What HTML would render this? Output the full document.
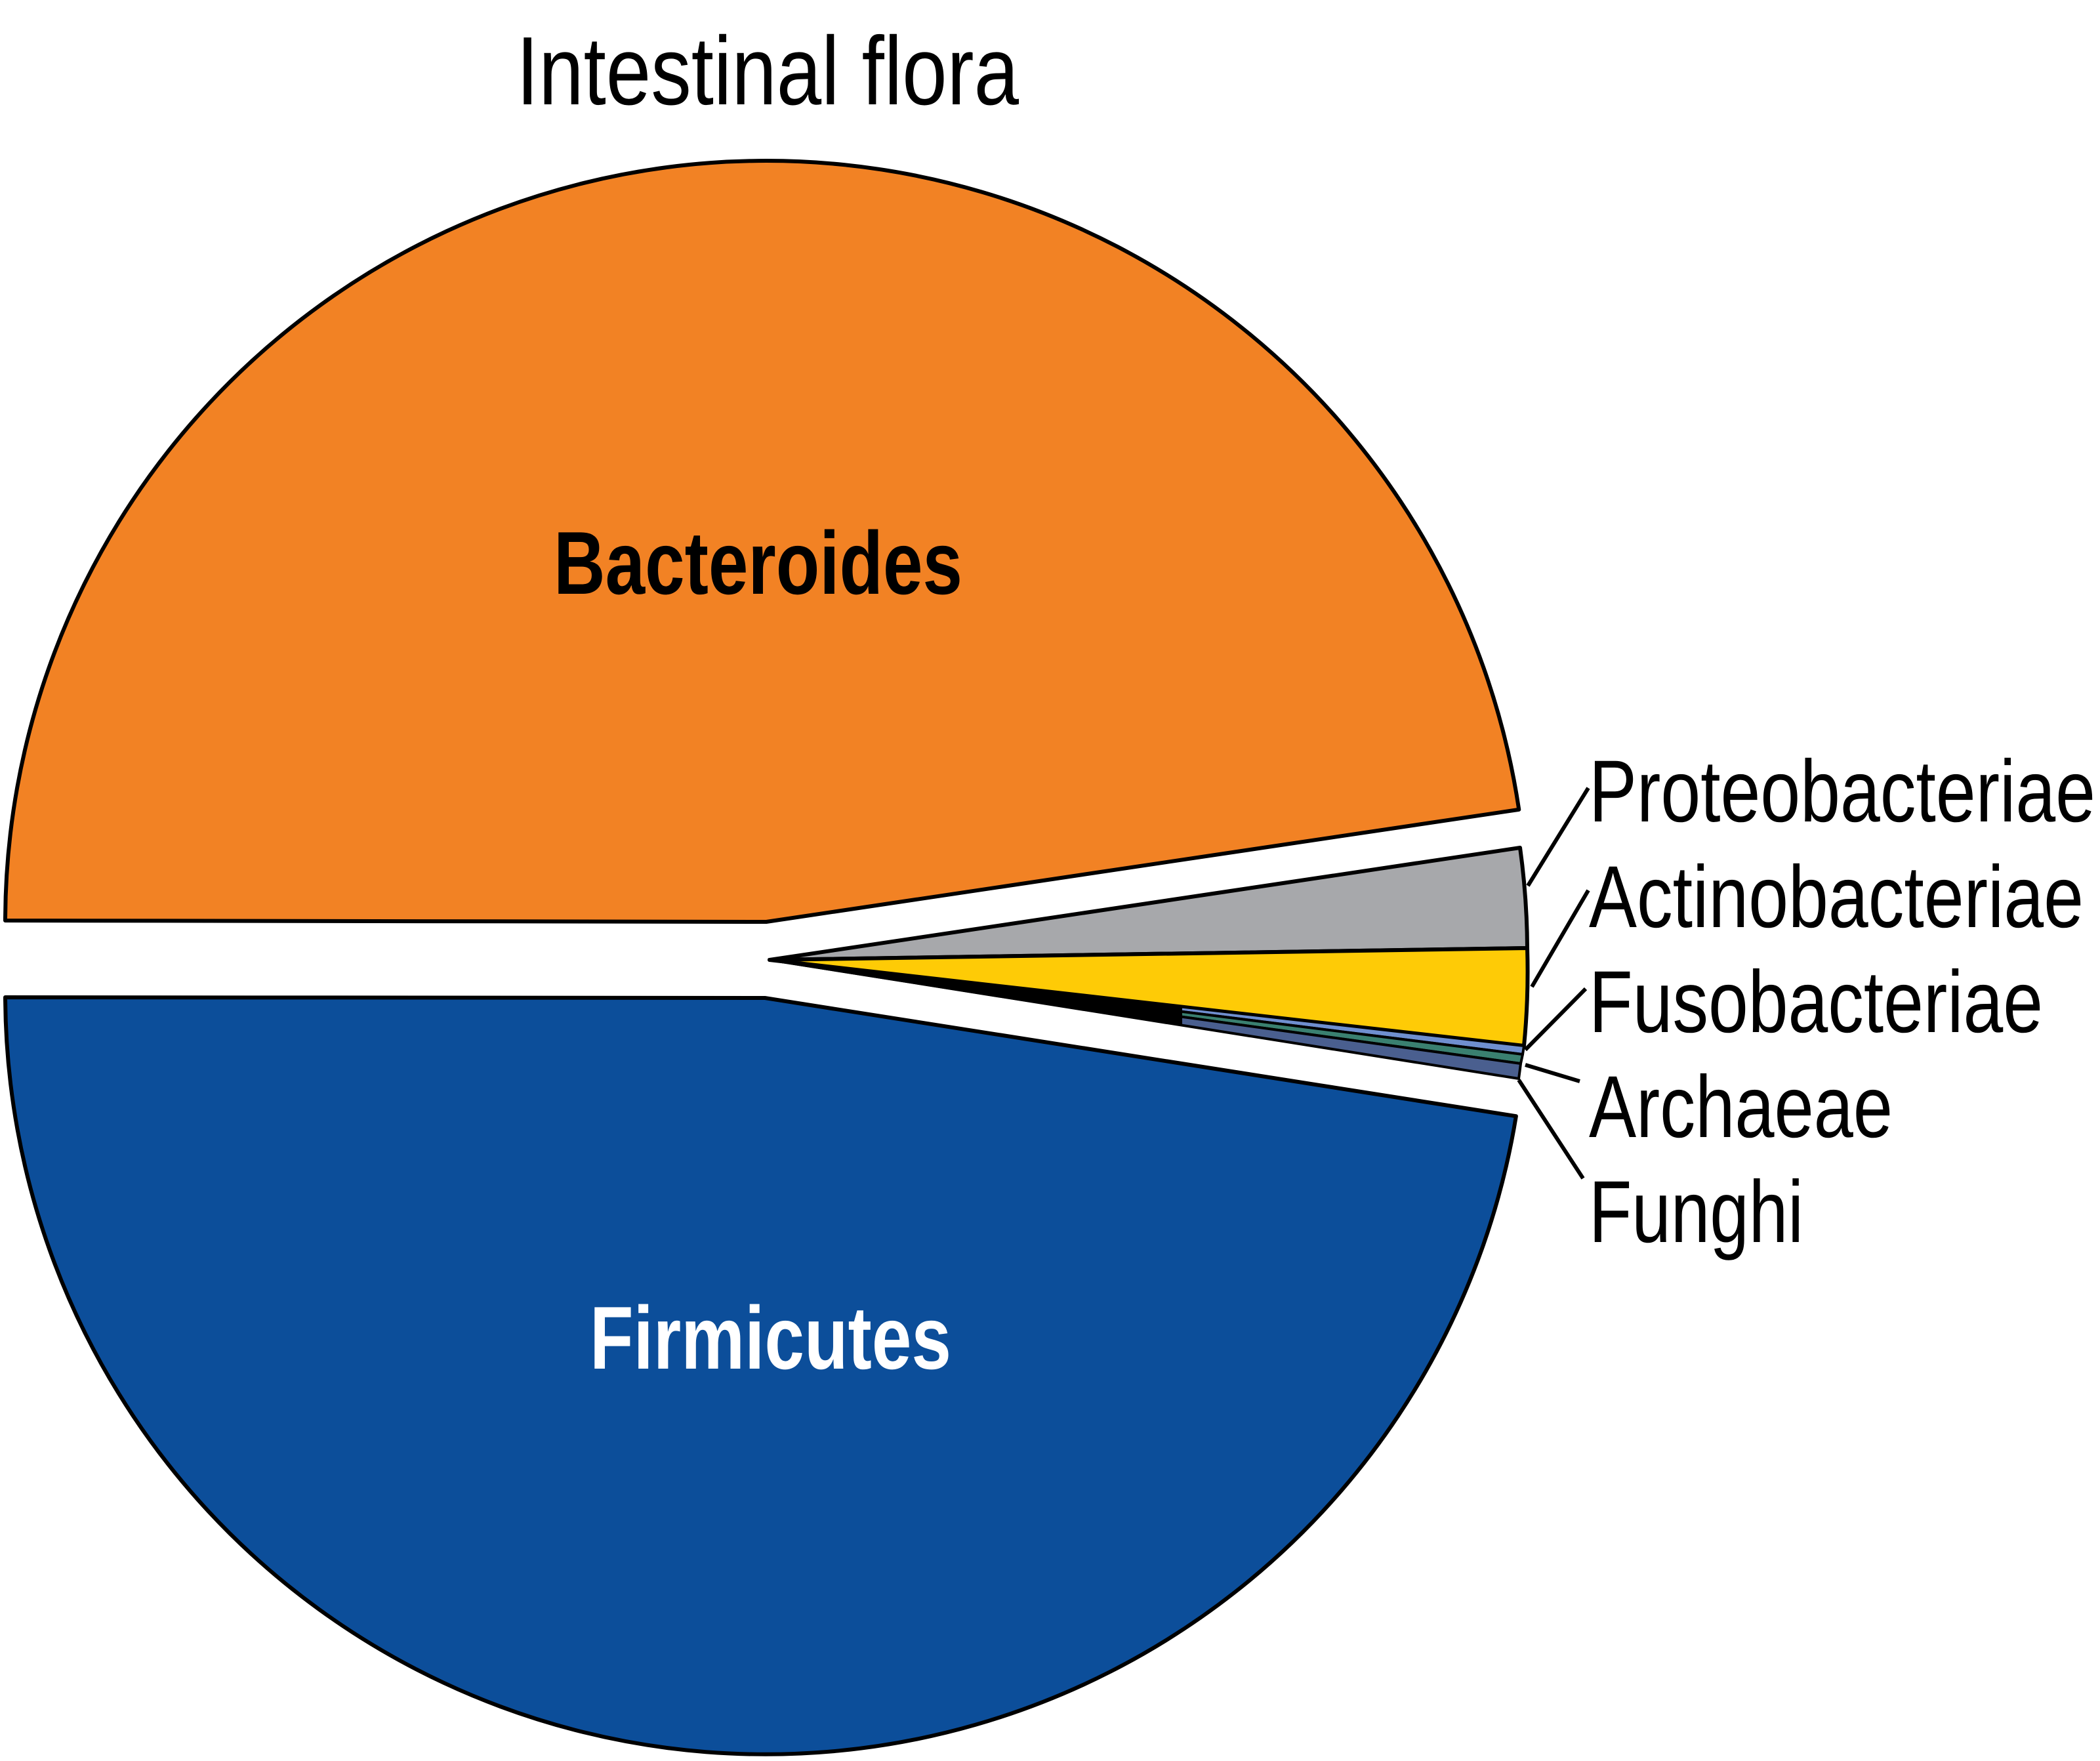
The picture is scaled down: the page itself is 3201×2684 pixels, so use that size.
<!DOCTYPE html>
<html><head><meta charset="utf-8"><style>html,body{margin:0;padding:0;background:#fff}svg{display:block}</style></head>
<body>
<svg width="3201" height="2684" viewBox="0 0 3201 2684" xmlns="http://www.w3.org/2000/svg">
<g stroke="#000" stroke-width="6" stroke-linejoin="round">
<path d="M1168,1405 L8,1403 A1160,1160 0 0 1 2315.3,1233.9 Z" fill="#f28224"/>
<path d="M1166,1521 L2310.9,1701.2 A1159,1159 0 0 1 8,1520 Z" fill="#0c4e9a"/>
<path d="M1173,1463 L2317,1292 A1157,1157 0 0 1 2328,1445 Z" fill="#a7a8ab"/>
<path d="M1173,1463 L2328,1445 A1157,1157 0 0 1 2323,1594 Z" fill="#fecb06"/>
<path d="M1173,1463 L2323,1594 A1157,1157 0 0 1 2321,1607 Z" fill="#6f8fcf" stroke-width="4"/>
<path d="M1173,1463 L2321,1607 A1157,1157 0 0 1 2318,1621 Z" fill="#3a8070" stroke-width="4"/>
<path d="M1173,1463 L2318,1621 A1157,1157 0 0 1 2315,1644 Z" fill="#4a5f8f" stroke-width="4"/>
<path d="M1173,1463 L1800,1534 L1800,1562 Z" fill="#000" stroke-width="4"/>
</g>
<g stroke="#000" stroke-width="6">
<line x1="2329" y1="1350" x2="2421" y2="1201"/>
<line x1="2335" y1="1504" x2="2421" y2="1357"/>
<line x1="2325" y1="1600" x2="2417" y2="1507"/>
<line x1="2325" y1="1623" x2="2408" y2="1648"/>
<line x1="2315" y1="1646" x2="2413" y2="1796"/>
</g>
<g font-family="Liberation Sans, Arial, sans-serif" font-size="134" fill="#000">
<text x="787" y="159" font-size="148" textLength="766" lengthAdjust="spacingAndGlyphs">Intestinal flora</text>
<text x="2422" y="1252" textLength="772" lengthAdjust="spacingAndGlyphs">Proteobacteriae</text>
<text x="2422" y="1413" textLength="754" lengthAdjust="spacingAndGlyphs">Actinobacteriae</text>
<text x="2422" y="1573" textLength="692" lengthAdjust="spacingAndGlyphs">Fusobacteriae</text>
<text x="2422" y="1733" textLength="463" lengthAdjust="spacingAndGlyphs">Archaeae</text>
<text x="2422" y="1893" textLength="327" lengthAdjust="spacingAndGlyphs">Funghi</text>
<text x="844" y="905" font-size="136" font-weight="bold" textLength="623" lengthAdjust="spacingAndGlyphs">Bacteroides</text>
<text x="899" y="2086" font-size="136" font-weight="bold" fill="#fff" textLength="551" lengthAdjust="spacingAndGlyphs">Firmicutes</text>
</g>
</svg>
</body></html>
